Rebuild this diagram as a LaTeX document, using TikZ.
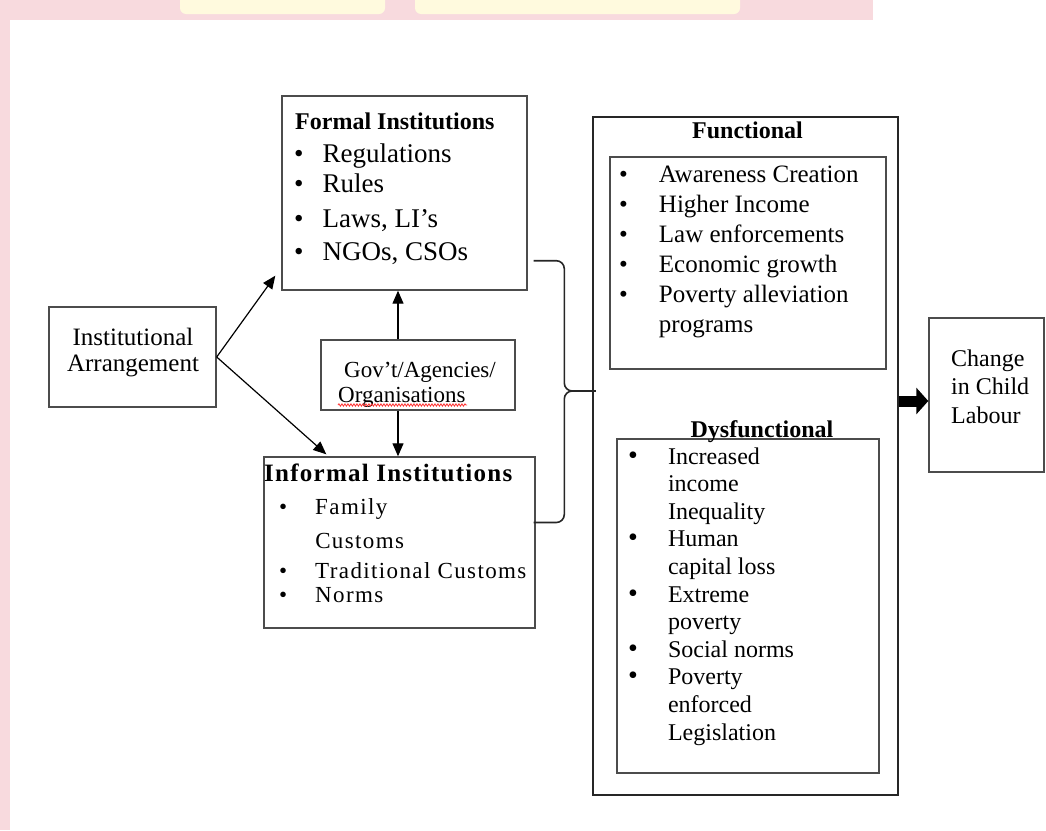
\documentclass[tikz,border=0pt]{standalone}
\usepackage{fontspec}
\usepackage{array}
\setmainfont{Liberation Serif}
\newfontfamily\wideserif[LetterSpace=6]{Liberation Serif}
\usetikzlibrary{arrows.meta,calc,decorations.pathmorphing}

\definecolor{wmpink}{RGB}{248,218,222}
\definecolor{wmyellow}{RGB}{255,250,222}

\newcommand{\fs}[2]{\fontsize{#1}{#2}\selectfont}
\newcommand{\bigbul}{\smash{\fontsize{28}{20}\selectfont\textbullet}}

\tikzset{
  box/.style={draw=black!70, line width=1.4pt, inner sep=0pt},
  txt/.style={inner sep=0pt, anchor=base west},
  conn/.style={line width=1.2pt, -{Triangle[length=13pt,width=11pt]}},
  fat arrow/.style={line width=11pt, -{Triangle[length=12pt,width=26pt]}},
  brace/.style={line width=1.6pt, black!85, rounded corners=8pt},
}

\begin{document}
\begin{tikzpicture}[x=1pt, y=-1pt]
\useasboundingbox (0,0) rectangle (1046,830);

% page edge
\fill[wmpink] (0,0) rectangle (873,20);
\fill[wmpink] (0,0) rectangle (10,830);
\fill[wmyellow, rounded corners=6pt] (180,-6) rectangle (385,14);
\fill[wmyellow, rounded corners=6pt] (415,-6) rectangle (740,14);

\node[box, minimum width=167pt, minimum height=100pt] (arr) at (132.5,357) {};
\node[box, minimum width=245pt, minimum height=194pt] (formal) at (404.5,193) {};
\node[box, minimum width=194pt, minimum height=70pt] (gov) at (418,375) {};
\node[box, minimum width=271pt, minimum height=171pt] (informal) at (399.5,542.5) {};
\node[box, draw=black!85, minimum width=305pt, minimum height=678pt] (outer) at (745.5,456) {};
\node[box, minimum width=276pt, minimum height=212pt] (func) at (748,263) {};
\node[box, minimum width=262pt, minimum height=334pt] (dysf) at (748,606) {};
\node[box, minimum width=115pt, minimum height=154pt] (change) at (986.5,395) {};

\node[txt, anchor=base] (arrtxt) at (133,345)
  {\fs{25}{26}\begin{tabular}[t]{@{}c@{}}Institutional\\Arrangement\end{tabular}};

\node[txt] (formaltitle) at (295,129) {\fs{24}{28}\bfseries Formal Institutions};
\node[txt] (formallist) at (294,162)
  {\fs{27}{30}\begin{tabular}[t]{@{}l@{\hspace{19pt}}l@{}}
   \textbullet & Regulations\\
   \textbullet & Rules\\[5pt]
   \textbullet & Laws, LI’s\\[3pt]
   \textbullet & NGOs, CSOs
   \end{tabular}};

\node[txt] (govtxt) at (338,377)
  {\fs{23}{25}\begin{tabular}[t]{@{}l@{}}\hspace{6pt}Gov’t/Agencies/\\Organisations\end{tabular}};
\draw[red!80, line width=0.8pt, decorate, decoration={snake, amplitude=1.2pt, segment length=3pt}]
  ($(govtxt.base west)+(0,28)$) -- ++(129,0);

\node[txt] (inftitle) at (264,481)
  {\fs{25}{28}\bfseries\addfontfeatures{LetterSpace=5}Informal Institutions};
\node[txt] (inflist) at (279,514)
  {\fs{23}{30}\wideserif\begin{tabular}[t]{@{}l@{\hspace{28pt}}l@{}}
   \textbullet & Family\\[4pt]
   & Customs\\
   \textbullet & Traditional Customs\\[-6pt]
   \textbullet & Norms
   \end{tabular}};

\node[txt, anchor=base] (functitle) at (747.5,138) {\fs{24}{28}\bfseries Functional};
\node[txt] (funclist) at (619,182)
  {\fs{25}{30}\begin{tabular}[t]{@{}l@{\hspace{31pt}}l@{}}
   \textbullet & Awareness Creation\\
   \textbullet & Higher Income\\
   \textbullet & Law enforcements\\
   \textbullet & Economic growth\\
   \textbullet & Poverty alleviation\\
   & programs
   \end{tabular}};

\node[txt, anchor=base] (dysftitle) at (762,437) {\fs{24}{28}\bfseries Dysfunctional};
\node[txt] (dysflist) at (628,464)
  {\fs{24}{27.6}\begin{tabular}[t]{@{}l@{\hspace{30pt}}l@{}}
   \bigbul & Increased\\
   & income\\
   & Inequality\\
   \bigbul & Human\\
   & capital loss\\
   \bigbul & Extreme\\
   & poverty\\
   \bigbul & Social norms\\
   \bigbul & Poverty\\
   & enforced\\
   & Legislation
   \end{tabular}};

\node[txt] (changetxt) at (951,366)
  {\fs{24}{28.5}\begin{tabular}[t]{@{}l@{}}Change\\in Child\\Labour\end{tabular}};

% connectors
\draw[conn] (arr.east) -- ($(formal.south west)+(-6,-15)$);
\draw[conn] (arr.east) -- ($(informal.north west)+(63,-2)$);

\coordinate (gup) at ([xshift=-20pt]gov.north);
\coordinate (gdown) at ([xshift=-20pt]gov.south);
\draw[conn] (gup) -- (gup |- formal.south);
\draw[conn] (gdown) -- (gdown |- informal.north);

\coordinate (bt) at ($(formal.south east)+(6,-30)$);
\coordinate (bb) at ($(informal.east)+(-2,-20)$);
\coordinate (bm) at ($(outer.west)+(-18,-65)$);
\coordinate (bx) at ($(bm)+(-10,0)$);
\draw[brace] (bt) -| (bx) -- (bm);
\draw[brace] (bb) -| (bx) -- (bm);
\draw[brace] (bm) -- ($(outer.west |- bm)+(4,0)$);

\coordinate (fa) at ([yshift=-6pt]change.west);
\draw[fat arrow] (outer.east |- fa) -- (fa);
\end{tikzpicture}
\end{document}
